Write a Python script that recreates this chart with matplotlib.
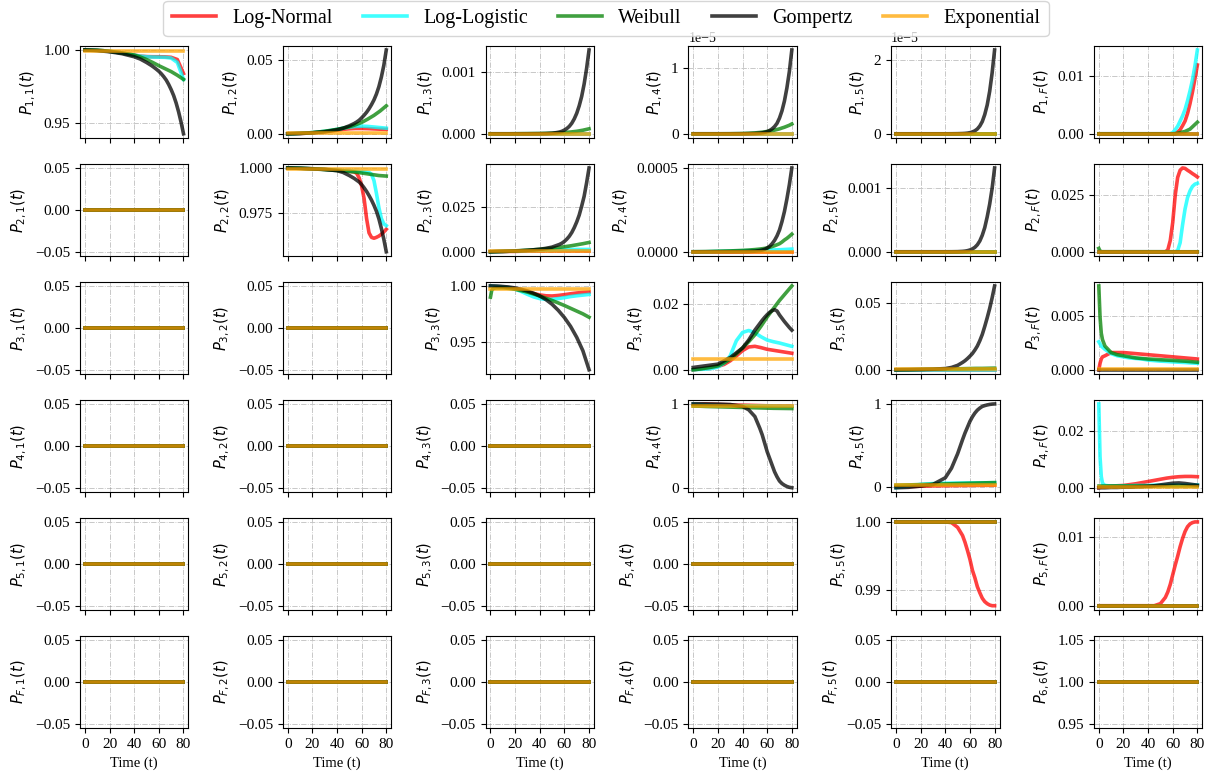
import numpy as np
import matplotlib
matplotlib.use("Agg")
import matplotlib.pyplot as plt
from matplotlib.ticker import MaxNLocator

plt.rcParams['font.family'] = ['Liberation Serif', 'DejaVu Serif']
plt.rcParams['mathtext.fontset'] = 'dejavusans'

models = ["Log-Normal", "Log-Logistic", "Weibull", "Gompertz", "Exponential"]
colors = ["red", "cyan", "green", "black", "orange"]
states = ["1", "2", "3", "4", "5", "F"]

# time grids (years)
T = [0, 5, 10, 15, 20, 25, 30, 35, 40, 45, 50, 55, 60, 65, 70, 75, 80]
T_EARLY = [0, 1, 2, 3, 5, 10, 15, 20, 25, 30, 35, 40, 45, 50, 55, 60, 65, 70, 75, 80]
T_FINE = [0, 10, 20, 30, 40, 45, 50, 54, 56, 58, 60, 62, 64, 66, 68, 70, 72, 74, 76, 78, 80]

# transition probabilities: panel -> model -> (time grid, values)
p11 = {
    "Log-Normal": (T, [1.0, 0.9999, 0.9998, 0.9995, 0.9990, 0.9985, 0.9979, 0.9972, 0.9965, 0.9958, 0.9955, 0.9954, 0.9954, 0.9953, 0.9950, 0.9935, 0.9840]),
    "Log-Logistic": (T, [1.0, 0.9999, 0.9998, 0.9995, 0.9990, 0.9985, 0.9979, 0.9972, 0.9965, 0.9958, 0.9954, 0.9952, 0.9951, 0.9950, 0.9945, 0.9915, 0.9800]),
    "Weibull": (T, [1.0, 0.9999, 0.9998, 0.9995, 0.9991, 0.9986, 0.9980, 0.9973, 0.9965, 0.9952, 0.9935, 0.9915, 0.9893, 0.9873, 0.9853, 0.9828, 0.9800]),
    "Gompertz": (T_FINE, [1.0, 0.9996, 0.9988, 0.9975, 0.9954, 0.9938, 0.9915, 0.9894, 0.9882, 0.9869, 0.9855, 0.9838, 0.9818, 0.9795, 0.9765, 0.9730, 0.9690, 0.9640, 0.9580, 0.9510, 0.9430]),
    "Exponential": (T, [0.9996] * 17),
}
p12 = {
    "Log-Normal": (T, [0, 0.0001, 0.0002, 0.0004, 0.0007, 0.0010, 0.0014, 0.0019, 0.0024, 0.0030, 0.0034, 0.0036, 0.0036, 0.0035, 0.0033, 0.0031, 0.0030]),
    "Log-Logistic": (T, [0, 0.0001, 0.0003, 0.0005, 0.0008, 0.0012, 0.0017, 0.0023, 0.0030, 0.0038, 0.0045, 0.0050, 0.0052, 0.0050, 0.0046, 0.0042, 0.0038]),
    "Weibull": (T, [0, 0.0001, 0.0003, 0.0005, 0.0008, 0.0012, 0.0017, 0.0023, 0.0030, 0.0038, 0.0048, 0.0061, 0.0077, 0.0100, 0.0125, 0.0155, 0.0190]),
    "Gompertz": (T_FINE, [0, 0.0002, 0.0006, 0.0013, 0.0027, 0.0038, 0.0054, 0.0070, 0.0080, 0.0092, 0.0108, 0.0126, 0.0146, 0.0170, 0.0198, 0.0230, 0.0270, 0.0320, 0.0385, 0.0465, 0.0570]),
    "Exponential": (T, [0.0008] * 17),
}
p13 = {
    "Weibull": (T, [0, 0, 0, 0, 0.000001, 0.000002, 0.000003, 0.000004, 0.000005, 0.000007, 0.00001, 0.000014, 0.00002, 0.000028, 0.00004, 0.000057, 0.00008]),
    "Gompertz": (T_FINE, [0, 0, 0, 0, 0.000001, 0.000003, 0.000008, 0.00002, 0.000028, 0.00004, 0.00006, 0.000085, 0.00012, 0.00017, 0.00024, 0.00033, 0.00045, 0.0006, 0.0008, 0.00105, 0.00135]),
}
# in units of 1e-5
p14_e5 = {
    "Weibull": (T_FINE, [0, 0, 0, 0.001, 0.004, 0.008, 0.013, 0.02, 0.024, 0.029, 0.035, 0.041, 0.048, 0.056, 0.065, 0.075, 0.088, 0.10, 0.115, 0.13, 0.15]),
    "Gompertz": (T_FINE, [0, 0, 0, 0, 0.0005, 0.0015, 0.004, 0.009, 0.014, 0.022, 0.033, 0.05, 0.075, 0.11, 0.16, 0.24, 0.35, 0.50, 0.70, 0.95, 1.28]),
}
p15_e5 = {
    "Gompertz": (T_FINE, [0, 0, 0, 0, 0, 0.001, 0.003, 0.007, 0.011, 0.018, 0.03, 0.05, 0.08, 0.13, 0.21, 0.33, 0.52, 0.78, 1.15, 1.65, 2.27]),
}
p1f = {
    "Log-Normal": (T_FINE, [0, 0, 0, 0, 0, 0, 0, 0, 0, 0, 0, 0.0001, 0.0003, 0.0007, 0.0014, 0.0022, 0.0035, 0.0052, 0.0072, 0.0095, 0.0119]),
    "Log-Logistic": (T_FINE, [0, 0, 0, 0, 0, 0, 0, 0, 0, 0, 0.0002, 0.0007, 0.0013, 0.0022, 0.0031, 0.0042, 0.0057, 0.0074, 0.0093, 0.0117, 0.0145]),
    "Weibull": (T_FINE, [0, 0, 0, 0, 0, 0, 0, 0, 0, 0, 0, 0, 0.0001, 0.0002, 0.0003, 0.0004, 0.0006, 0.0008, 0.0012, 0.0016, 0.0020]),
}
p22 = {
    "Log-Normal": (T_FINE, [1.0, 0.9999, 0.9996, 0.9992, 0.9988, 0.9985, 0.9982, 0.9978, 0.9970, 0.9945, 0.9900, 0.9830, 0.9720, 0.9640, 0.9615, 0.9610, 0.9615, 0.9622, 0.9632, 0.9645, 0.9660]),
    "Log-Logistic": (T_FINE, [1.0, 0.9999, 0.9996, 0.9992, 0.9988, 0.9986, 0.9984, 0.9982, 0.9981, 0.9980, 0.9979, 0.9978, 0.9977, 0.9975, 0.9965, 0.9930, 0.9860, 0.9780, 0.9720, 0.9690, 0.9680]),
    "Weibull": (T_FINE, [1.0, 0.9998, 0.9995, 0.9991, 0.9986, 0.9983, 0.9980, 0.9978, 0.9976, 0.9974, 0.9972, 0.9970, 0.9968, 0.9966, 0.9964, 0.9962, 0.9960, 0.9958, 0.9957, 0.9956, 0.9955]),
    "Gompertz": (T_FINE, [1.0, 0.9998, 0.9995, 0.9992, 0.9985, 0.9975, 0.9958, 0.9942, 0.9932, 0.9922, 0.9908, 0.9890, 0.9870, 0.9847, 0.9822, 0.9793, 0.9760, 0.9718, 0.9665, 0.9605, 0.9535]),
    "Exponential": (T, [0.9997] * 17),
}
p23 = {
    "Log-Normal": (T, [0, 0.0001, 0.0001, 0.0002, 0.0002, 0.0003, 0.0003, 0.0004, 0.0004, 0.0005, 0.0005, 0.0005, 0.0005, 0.0005, 0.0005, 0.0005, 0.0005]),
    "Log-Logistic": (T, [0, 0.0001, 0.0002, 0.0003, 0.0004, 0.0005, 0.0006, 0.0007, 0.0008, 0.0009, 0.0010, 0.0011, 0.0012, 0.0012, 0.0013, 0.0013, 0.0013]),
    "Weibull": (T, [0, 0.0001, 0.0002, 0.0003, 0.0005, 0.0007, 0.0009, 0.0011, 0.0014, 0.0017, 0.0020, 0.0024, 0.0028, 0.0033, 0.0039, 0.0045, 0.0052]),
    "Gompertz": (T_FINE, [0, 0.0002, 0.0004, 0.0008, 0.0014, 0.0019, 0.0026, 0.0036, 0.0041, 0.0048, 0.0058, 0.0071, 0.0087, 0.0108, 0.0135, 0.0167, 0.0205, 0.0255, 0.0310, 0.0385, 0.0469]),
    "Exponential": (T, [0.0003] * 17),
}
# in units of 1e-4
p24_e4 = {
    "Log-Logistic": (T, [0, 0, 0, 0.01, 0.02, 0.03, 0.04, 0.05, 0.06, 0.07, 0.08, 0.09, 0.10, 0.11, 0.12, 0.14, 0.16]),
    "Weibull": (T_FINE, [0, 0.01, 0.03, 0.05, 0.08, 0.10, 0.13, 0.16, 0.18, 0.20, 0.23, 0.27, 0.31, 0.36, 0.42, 0.48, 0.58, 0.70, 0.80, 0.92, 1.05]),
    "Gompertz": (T_FINE, [0, 0, 0, 0.001, 0.006, 0.015, 0.035, 0.07, 0.10, 0.15, 0.22, 0.33, 0.48, 0.68, 0.95, 1.30, 1.80, 2.40, 3.15, 4.00, 5.00]),
}
# in units of 1e-3
p25_e3 = {
    "Gompertz": (T_FINE, [0, 0, 0, 0, 0, 0.0005, 0.002, 0.006, 0.010, 0.017, 0.028, 0.045, 0.07, 0.11, 0.17, 0.26, 0.38, 0.55, 0.75, 1.0, 1.32]),
}
p2f = {
    "Log-Normal": (T_FINE, [0, 0, 0, 0, 0, 0, 0, 0, 0.0008, 0.0050, 0.0130, 0.0250, 0.0330, 0.0362, 0.0372, 0.0370, 0.0362, 0.0355, 0.0347, 0.0340, 0.0332]),
    "Log-Logistic": (T_FINE, [0, 0, 0, 0, 0, 0, 0, 0, 0, 0, 0, 0, 0.0005, 0.0040, 0.0120, 0.0190, 0.0240, 0.0270, 0.0290, 0.0300, 0.0304]),
    "Weibull": (T_EARLY, [0.0015, 0.0003, 0, 0, 0, 0, 0, 0, 0, 0, 0, 0, 0, 0, 0, 0, 0, 0, 0, 0]),
}
p33 = {
    "Log-Normal": (T_EARLY, [1.0, 1.0, 0.9999, 0.9998, 0.9997, 0.9992, 0.9985, 0.9975, 0.9962, 0.9948, 0.9932, 0.9920, 0.9912, 0.9910, 0.9915, 0.9922, 0.9930, 0.9937, 0.9942, 0.9946]),
    "Log-Logistic": (T_EARLY, [1.0, 1.0, 0.9999, 0.9998, 0.9997, 0.9992, 0.9985, 0.9972, 0.9950, 0.9925, 0.9902, 0.9887, 0.9880, 0.9880, 0.9887, 0.9895, 0.9905, 0.9912, 0.9918, 0.9924]),
    "Weibull": (T_EARLY, [0.9900, 0.9960, 0.9975, 0.9980, 0.9983, 0.9983, 0.9978, 0.9970, 0.9958, 0.9945, 0.9928, 0.9910, 0.9890, 0.9870, 0.9848, 0.9825, 0.9800, 0.9775, 0.9750, 0.9720]),
    "Gompertz": (T_EARLY, [1.0, 1.0, 0.9999, 0.9999, 0.9998, 0.9995, 0.9990, 0.9982, 0.9970, 0.9955, 0.9935, 0.9910, 0.9878, 0.9836, 0.9782, 0.9717, 0.9638, 0.9540, 0.9420, 0.9250]),
    "Exponential": (T, [0.9975] * 17),
}
p34 = {
    "Log-Normal": (T, [0, 0.0002, 0.0004, 0.0007, 0.0010, 0.0016, 0.0027, 0.0042, 0.0058, 0.0069, 0.0071, 0.0067, 0.0062, 0.0059, 0.0056, 0.0053, 0.0050]),
    "Log-Logistic": (T, [0, 0.0001, 0.0002, 0.0004, 0.0008, 0.0020, 0.0042, 0.0088, 0.0113, 0.0119, 0.0112, 0.0100, 0.0090, 0.0085, 0.0081, 0.0076, 0.0071]),
    "Weibull": (T, [0, 0.0002, 0.0005, 0.0008, 0.0012, 0.0021, 0.0032, 0.0048, 0.0066, 0.0085, 0.0106, 0.0132, 0.0160, 0.0185, 0.0210, 0.0232, 0.0254]),
    "Gompertz": (T_FINE, [0.0007, 0.0012, 0.0017, 0.0037, 0.0066, 0.0090, 0.0120, 0.0140, 0.0150, 0.0159, 0.0167, 0.0174, 0.0179, 0.0182, 0.0178, 0.0166, 0.0156, 0.0146, 0.0137, 0.0128, 0.0120]),
    "Exponential": (T, [0.0033] * 17),
}
p35 = {
    "Weibull": (T, [0, 0.0001, 0.0001, 0.0002, 0.0003, 0.0004, 0.0004, 0.0005, 0.0006, 0.0007, 0.0007, 0.0008, 0.0009, 0.0010, 0.0010, 0.0011, 0.0012]),
    "Gompertz": (T_FINE, [0, 0.0001, 0.0002, 0.0004, 0.0009, 0.0017, 0.0033, 0.0055, 0.0068, 0.0084, 0.0102, 0.0122, 0.0148, 0.0178, 0.0218, 0.0265, 0.0325, 0.0390, 0.0460, 0.0540, 0.0629]),
    "Exponential": (T, [0.0003] * 17),
}
p3f = {
    "Log-Normal": (T_EARLY, [0.0, 0.0006, 0.0010, 0.0012, 0.0013, 0.0016, 0.0016, 0.0016, 0.00155, 0.0015, 0.00145, 0.0014, 0.00135, 0.0013, 0.00125, 0.0012, 0.00115, 0.0011, 0.00105, 0.0010]),
    "Log-Logistic": (T_EARLY, [0.0026, 0.0024, 0.0022, 0.0021, 0.0019, 0.0015, 0.0013, 0.0012, 0.0011, 0.00105, 0.0010, 0.0009, 0.00085, 0.0008, 0.00077, 0.00073, 0.0007, 0.00067, 0.00063, 0.0006]),
    "Weibull": (T_EARLY, [0.0078, 0.0049, 0.0034, 0.0028, 0.0022, 0.0016, 0.0014, 0.0013, 0.0012, 0.0011, 0.00105, 0.0010, 0.00097, 0.00093, 0.0009, 0.00087, 0.00083, 0.0008, 0.00075, 0.0007]),
    "Exponential": (T, [0.0001] * 17),
}
p44 = {
    "Log-Normal": (T, [1.0, 0.999, 0.998, 0.996, 0.994, 0.992, 0.990, 0.988, 0.986, 0.984, 0.982, 0.980, 0.978, 0.977, 0.976, 0.975, 0.974]),
    "Log-Logistic": (T, [1.0, 0.995, 0.990, 0.987, 0.985, 0.983, 0.981, 0.980, 0.979, 0.978, 0.977, 0.976, 0.975, 0.974, 0.973, 0.972, 0.971]),
    "Weibull": (T, [0.975, 0.973, 0.970, 0.968, 0.966, 0.964, 0.962, 0.960, 0.958, 0.956, 0.954, 0.952, 0.950, 0.948, 0.947, 0.946, 0.945]),
    "Gompertz": (T_FINE, [1.0, 1.0, 0.998, 0.993, 0.970, 0.930, 0.850, 0.710, 0.630, 0.530, 0.430, 0.350, 0.270, 0.190, 0.130, 0.080, 0.050, 0.030, 0.015, 0.005, 0.0]),
    "Exponential": (T, [0.975] * 17),
}
p45 = {
    "Log-Normal": (T, [0, 0.002, 0.004, 0.006, 0.008, 0.010, 0.012, 0.013, 0.014, 0.015, 0.016, 0.017, 0.018, 0.019, 0.019, 0.020, 0.020]),
    "Log-Logistic": (T, [-0.01, 0.0, 0.01, 0.02, 0.03, 0.035, 0.040, 0.042, 0.044, 0.045, 0.046, 0.047, 0.048, 0.049, 0.050, 0.050, 0.050]),
    "Weibull": (T, [0.020, 0.022, 0.024, 0.026, 0.028, 0.030, 0.032, 0.034, 0.036, 0.038, 0.040, 0.042, 0.044, 0.046, 0.048, 0.050, 0.052]),
    "Gompertz": (T_FINE, [-0.01, -0.005, 0.01, 0.03, 0.11, 0.225, 0.40, 0.57, 0.65, 0.72, 0.79, 0.845, 0.89, 0.925, 0.95, 0.97, 0.98, 0.988, 0.994, 0.998, 1.0]),
    "Exponential": (T, [0.025] * 17),
}
p4f = {
    "Log-Normal": (T_EARLY, [0, 0.0001, 0.0002, 0.0003, 0.0004, 0.0006, 0.0007, 0.0008, 0.0011, 0.0014, 0.0018, 0.0022, 0.0026, 0.0030, 0.0034, 0.0037, 0.0039, 0.0040, 0.0040, 0.0039]),
    "Log-Logistic": (T_EARLY, [0.0297, 0.0110, 0.0040, 0.0016, 0.0008, 0.0006, 0.0006, 0.0007, 0.0007, 0.0008, 0.0008, 0.0008, 0.0009, 0.0009, 0.0009, 0.0010, 0.0010, 0.0010, 0.0010, 0.0010]),
    "Weibull": (T, [0.0005] * 17),
    "Gompertz": (T_EARLY, [0, 0, 0, 0, 0, 0.0001, 0.0001, 0.0002, 0.0002, 0.0003, 0.0004, 0.0005, 0.0007, 0.0010, 0.0013, 0.0016, 0.0017, 0.0015, 0.0012, 0.0009]),
    "Exponential": (T, [0.0003] * 17),
}
p55 = {
    "Log-Normal": (T_FINE, [1.0, 1.0, 1.0, 1.0, 1.0, 0.9999, 0.9992, 0.9980, 0.9970, 0.9958, 0.9945, 0.9929, 0.9918, 0.9905, 0.9896, 0.9888, 0.9883, 0.9880, 0.9878, 0.9877, 0.9877]),
}
p5f = {
    "Log-Normal": (T_FINE, [0, 0, 0, 0, 0, 0, 0.0003, 0.0012, 0.0020, 0.0031, 0.0045, 0.0059, 0.0072, 0.0086, 0.0098, 0.0108, 0.0115, 0.0119, 0.0121, 0.0122, 0.0122]),
}

# (row, col): (values, value for models not listed, unit scale)
panels = {
    (0, 0): (p11, 0.0, 1), (0, 1): (p12, 0.0, 1), (0, 2): (p13, 0.0, 1),
    (0, 3): (p14_e5, 0.0, 1e-5), (0, 4): (p15_e5, 0.0, 1e-5), (0, 5): (p1f, 0.0, 1),
    (1, 1): (p22, 1.0, 1), (1, 2): (p23, 0.0, 1), (1, 3): (p24_e4, 0.0, 1e-4),
    (1, 4): (p25_e3, 0.0, 1e-3), (1, 5): (p2f, 0.0, 1),
    (2, 2): (p33, 1.0, 1), (2, 3): (p34, 0.0, 1), (2, 4): (p35, 0.0, 1), (2, 5): (p3f, 0.0, 1),
    (3, 3): (p44, 1.0, 1), (3, 4): (p45, 0.0, 1), (3, 5): (p4f, 0.0, 1),
    (4, 4): (p55, 1.0, 1), (4, 5): (p5f, 0.0, 1),
}

fig, axes = plt.subplots(6, 6, figsize=(12.12, 7.76), dpi=100, sharex=True)
fig.subplots_adjust(left=0.066, right=0.992, top=0.941, bottom=0.062, wspace=0.87, hspace=0.28)

for i in range(6):
    for j in range(6):
        ax = axes[i, j]
        data, default, scale = panels.get((i, j), ({}, 1.0 if i == j else 0.0, 1))
        for m, c in zip(models, colors):
            t, v = data.get(m, (T, [default] * len(T)))
            ax.plot(t, np.array(v) * scale, color=c, lw=2.6, alpha=0.75, label=m)
        ax.set_xticks([0, 20, 40, 60, 80])
        ax.yaxis.set_major_locator(MaxNLocator(nbins=2, steps=[1, 2, 2.5, 5, 10]))
        ax.grid(True, linestyle='-.', color='gray', lw=0.6, alpha=0.5)
        ax.tick_params(labelsize=11)
        if i == 5 and j == 5:
            ax.set_ylabel("$P_{6,6}(t)$", fontsize=10.5)
        else:
            ax.set_ylabel("$P_{%s,%s}(t)$" % (states[i], states[j]), fontsize=10.5)
        if i == 5:
            ax.set_xlabel("Time (t)", fontsize=10.5)

handles, labels = axes[0, 0].get_legend_handles_labels()
fig.legend(handles, labels, loc='upper center', bbox_to_anchor=(0.5, 1.012), ncol=5, fontsize=14.5,
           handlelength=2.2, columnspacing=1.5)

fig.savefig("out.png", dpi=100)
